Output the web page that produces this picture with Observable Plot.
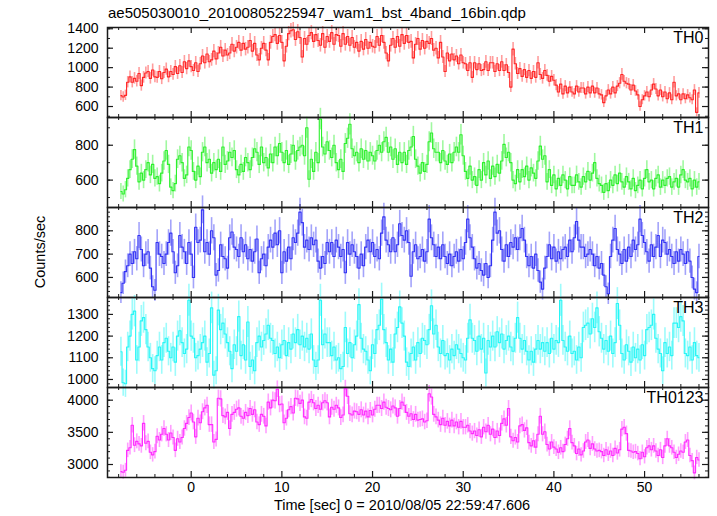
<!DOCTYPE html>
<html><head><meta charset="utf-8">
<script src="https://cdn.jsdelivr.net/npm/d3@7"></script>
<script src="https://cdn.jsdelivr.net/npm/@observablehq/plot@0.6"></script>
<style>
body{margin:0;background:#fff;}
#chart{position:relative;width:717px;height:516px;overflow:hidden;font-family:"Liberation Sans",Arial,Helvetica,sans-serif;color:#000;}
#title{position:absolute;left:108px;top:4px;font-size:15px;white-space:nowrap;}
#ylab{position:absolute;left:40px;top:252px;transform:translate(-50%,-50%) rotate(-90deg);font-size:14.5px;white-space:nowrap;}
#xlab{position:absolute;left:402px;top:497px;transform:translateX(-50%);font-size:14.5px;white-space:nowrap;}
.panel{position:absolute;left:0;}
</style></head>
<body><div id="chart">
<div id="title">ae505030010_20100805225947_wam1_bst_4band_16bin.qdp</div>
<div id="ylab">Counts/sec</div>
<div id="xlab">Time [sec] 0 = 2010/08/05 22:59:47.606</div>
</div>
<script>
// time bins (centre of first bin and bin width, seconds)
const binStart = -7.75;
const binWidth = 0.25;
const xDomain = [-9.23, 57.05];
const xMajorTicks = [0, 10, 20, 30, 40, 50];
const xMinorTicks = [-8,-6,-4,-2,2,4,6,8,12,14,16,18,22,24,26,28,32,34,36,38,42,44,46,48,52,54,56];

const th0 = [
712,698,715,850, 905,850,890,860, 940,815,900,945, 960,890,975,905,
900,960,885,950, 985,905,960,930, 1010,940,1020,950, 1060,990,1070,1010,
970,1050,960,1040, 1120,1050,1140,1060, 1080,1170,1090,1150, 1210,1120,1180,1130,
1150,1240,1170,1210, 1260,1180,1250,1190, 1210,1280,1170,1250, 1130,1080,1200,1250,
1180,1080,1260,1320, 1340,1250,1330,1260, 1070,1220,1350,1380, 1390,1290,1370,1310,
1110,1300,1240,1330, 1360,1270,1340,1280, 1230,1350,1210,1320, 1270,1360,1240,1340,
1330,1220,1350,1240, 1320,1230,1310,1210, 1260,1170,1270,1190, 1290,1200,1260,1220,
1210,1320,1230,1330, 1260,1150,1070,1230, 1300,1210,1320,1220, 1340,1250,1330,1260,
1270,1100,1240,1300, 1190,1280,1200,1270, 1250,1300,1180,1200, 1100,1260,1110,960,
1150,1070,1140,1080, 1120,1040,1130,1050, 1040,970,1050,900, 1050,980,1040,970,
980,1060,970,1050, 1050,960,1040,970, 1060,970,1030,950, 800,1190,1040,940,
990,910,980,900, 970,890,960,900, 1050,930,890,970, 920,860,910,870,
820,750,830,730, 810,740,800,750, 730,810,750,790, 790,730,800,740,
810,740,790,730, 720,640,710,770, 730,800,740,810, 840,930,860,840,
830,770,820,760, 720,600,670,710, 750,700,770,830, 780,710,770,700,
750,680,740,670, 850,710,730,670, 730,680,720,690, 670,770,540,740
];
const th1 = [
535,520,545,610, 660,720,775,680, 590,640,600,660, 700,630,690,610,
620,580,640,710, 770,690,560,540, 580,720,740,700, 610,630,790,770,
650,600,680,620, 760,790,700,720, 640,700,660,720, 650,790,690,710,
760,730,770,660, 630,690,650,730, 700,660,730,780, 760,690,790,700,
730,670,750,700, 790,740,810,760, 700,770,690,750, 800,710,770,790,
800,740,900,605, 720,650,760,700, 950,790,750,820, 770,730,800,700,
660,720,650,810, 840,920,780,740, 760,700,780,720, 770,710,760,740,
710,770,800,760, 820,845,760,790, 720,780,690,760, 700,760,690,770,
790,850,720,680, 640,700,650,690, 820,870,780,760, 760,700,770,710,
690,750,700,760, 790,760,860,740, 650,610,680,600, 620,570,660,600,
700,630,710,610, 680,620,690,640, 710,805,730,760, 700,600,580,660,
590,660,620,680, 600,670,640,610, 710,795,720,740, 590,660,570,630,
550,610,570,630, 600,550,620,570, 570,630,590,560, 620,590,650,600,
640,700,610,580, 570,530,580,540, 600,570,630,580, 640,590,560,620,
590,550,610,540, 570,600,550,610, 660,590,600,550, 610,630,560,600,
570,610,620,560, 590,610,560,630, 660,600,590,610, 550,600,560,590
];
const th2 = [
535,575,625,650, 700,660,710,680, 780,720,650,700, 710,640,560,545,
750,700,690,660, 700,750,790,710, 620,650,780,730, 710,660,750,700,
600,815,750,760, 890,710,750,700, 800,770,610,630, 740,690,680,640,
770,795,730,720, 690,770,710,740, 680,720,670,710, 765,620,680,700,
650,730,760,730, 790,740,800,620, 710,670,730,680, 770,750,790,880,
835,730,760,720, 770,740,760,670, 640,690,660,750, 710,750,690,760,
730,690,720,620, 750,700,740,710, 690,640,700,650, 730,760,710,750,
690,720,680,790, 860,760,740,710, 770,710,740,830, 780,760,800,750,
605,710,740,680, 690,720,670,710, 850,770,740,690, 730,680,740,690,
660,700,650,690, 710,670,720,680, 750,850,770,730, 680,640,660,630,
610,660,600,650, 760,880,790,800, 720,670,740,690, 750,730,770,720,
770,810,760,690, 650,690,640,700, 630,580,550,640, 690,740,680,730,
670,710,680,720, 730,690,760,710, 770,840,760,730, 730,690,700,720,
700,650,690,640, 660,610,560,530, 690,760,810,720, 700,660,720,670,
730,690,760,720, 740,850,780,750, 710,670,740,690, 730,780,690,760,
750,700,720,690, 660,710,670,720, 700,660,710,670, 600,550,535,690
];
const th3 = [
1128,985,980,1150, 1200,1300,1315,1090, 1150,1270,1285,1230, 1150,1100,1050,1040,
1110,1150,1090,1170, 1190,1130,1100,1150, 1080,1200,1225,1170, 1120,1140,1365,1200,
1190,1100,1110,1140, 1170,1200,1080,1120, 1330,1020,1040,1320, 1230,1260,1210,1170,
1130,1050,1160,1130, 1290,1110,1160,1090, 1265,1060,1090,1040, 1170,1200,1150,1180,
1210,1250,1190,1180, 1120,1150,1100,1160, 1180,1110,1170,1140, 1210,1170,1230,1160,
1200,1150,1190,1140, 1210,1090,1060,1090, 1365,1160,1210,1170, 1170,1110,1150,1090,
1100,1050,1060,1240, 1120,1170,1100,1160, 1200,1345,1190,1140, 1130,1090,1040,1160,
1120,1230,1250,1370, 1230,1170,1090,1140, 1080,1210,1240,1335, 1260,1200,1080,1060,
1120,1150,1090,1170, 1120,1190,1180,1160, 1230,1340,1210,1250, 1150,1120,1180,1110,
1120,1090,1140,1110, 1160,1140,1120,1100, 1090,1190,1275,1190, 1180,1130,1200,1140,
1190,1030,1180,1150, 1200,1150,1220,1170, 1210,1140,1180,1200, 1150,1130,1190,1285,
1190,1140,1180,1130, 1090,1130,1080,1140, 1180,1140,1170,1130, 1170,1120,1190,1140,
1180,1170,1365,1180, 1150,1130,1200,1120, 1130,1090,1150,1100, 1240,1250,1260,1210,
1280,1240,1330,1220, 1190,1140,1180,1130, 1200,1120,1170,1350, 1250,1120,1090,1160,
1130,1080,1150,1100, 1140,1090,1160,1110, 1230,1240,1250,1300, 1190,1140,1120,1040,
1170,1120,1150,1110, 1260,1260,1240,1290, 1270,1120,1110,1150, 1090,1170,1110,1100
];
const th0123 = [
2890,2880,2910,3220, 3260,3610,3300,3360, 3320,3290,3640,3330, 3360,3190,3150,3200,
3440,3380,3470,3560, 3470,3380,3490,3420, 3220,3400,3350,3420, 3560,3640,3730,3800,
3660,3430,3720,3650, 3820,3880,3920,3620, 3620,3350,3390,4030, 4020,3760,3740,3810,
3560,3780,3810,3860, 3880,3750,3720,3810, 3760,3870,3780,3850, 3660,3620,3780,3750,
3600,3970,3880,4000, 3990,4170,3930,3940, 3650,3720,3850,3900, 3800,4030,4020,3950,
4000,3740,3720,3970, 4010,3960,3870,3920, 3860,3960,3990,3960, 3740,3890,3860,3920,
3880,3730,3770,4180, 4060,3790,3770,3830, 3820,3780,3850,3770, 3830,3740,3840,3770,
3860,3920,3920,3870, 3970,3890,3870,3850, 3910,3880,3750,3870, 3970,3920,3810,3750,
3790,3700,3780,3690, 3700,3710,3660,3680, 4100,4050,3780,3740, 3690,3620,3720,3610,
3670,3600,3690,3600, 3660,3580,3670,3580, 3580,3610,3520,3480, 3520,3450,3540,3430,
3580,3510,3610,3470, 3550,3420,3520,3450, 3640,3710,3610,3870, 3430,3370,3420,3350,
3600,3620,3530,3570, 3340,3290,3370,3270, 3470,3750,3470,3510, 3310,3240,3350,3270,
3240,3190,3260,3200, 3310,3400,3560,3340, 3290,3170,3240,3150, 3210,3350,3380,3250,
3320,3240,3210,3220, 3200,3140,3230,3160, 3210,3140,3250,3180, 3230,3550,3580,3480,
3220,3210,3190,3200, 3170,3090,3190,3120, 3260,3290,3230,3290, 3210,3140,3230,3110,
3290,3400,3290,3260, 3190,3110,3160,3210, 3190,3350,3380,3140, 3060,2870,3110,3070
];

const panelNames = ["TH0", "TH1", "TH2", "TH3", "TH0123"];
const panelColors = ["#ff2626", "#2cf02c", "#3232f4", "#26f6f6", "#ff2aff"];
const yDomains = [[487, 1413], [443, 959], [514, 900], [963, 1378], [2798, 4197]];
const yLabelTicks = [[600, 800, 1000, 1200, 1400], [600, 800], [600, 700, 800], [1000, 1100, 1200, 1300], [3000, 3500, 4000]];
const yMajorTicks = [[600, 800, 1000, 1200, 1400], [600, 800], [600, 700, 800], [1000, 1100, 1200, 1300], [3000, 3500, 4000]];
const yMinorStep = [100, 100, 20, 20, 100];
const series = [th0, th1, th2, th3, th0123];

const W = 717, mL = 107, mR = 9, panelH = 90, topStart = 27;
const innerW = W - mL - mR;
const chart = document.getElementById("chart");
const frameColor = "#1a1a1a";

series.forEach((vals, p) => {
  const data = vals.map((v, i) => ({t: binStart + binWidth * i, v, e: 2 * Math.sqrt(v)})); // Poisson error for 0.25 s bins
  const [y0, y1] = yDomains[p];
  const minor = d3.range(Math.ceil(y0 / yMinorStep[p]) * yMinorStep[p], y1, yMinorStep[p]);
  const last = p === series.length - 1;
  const mB = last ? 24 : 0;
  const marks = [
    Plot.ruleX(data, {x: "t", y1: d => d.v - d.e, y2: d => d.v + d.e, stroke: panelColors[p], strokeOpacity: 0.45, strokeWidth: 1.6}),
    Plot.line(data, {x: "t", y: "v", curve: "step", stroke: panelColors[p], strokeWidth: 1.1}),
    // inward ticks
    Plot.tickX(xMajorTicks, {x: d => d, insetTop: panelH - 6, stroke: frameColor, strokeWidth: 1.2}),
    Plot.tickX(xMajorTicks, {x: d => d, insetBottom: panelH - 6, stroke: frameColor, strokeWidth: 1.2}),
    Plot.tickX(xMinorTicks, {x: d => d, insetTop: panelH - 3, stroke: frameColor, strokeWidth: 1}),
    Plot.tickX(xMinorTicks, {x: d => d, insetBottom: panelH - 3, stroke: frameColor, strokeWidth: 1}),
    Plot.tickY(yMajorTicks[p], {y: d => d, insetRight: innerW - 6, stroke: frameColor, strokeWidth: 1.2}),
    Plot.tickY(yMajorTicks[p], {y: d => d, insetLeft: innerW - 6, stroke: frameColor, strokeWidth: 1.2}),
    Plot.tickY(minor, {y: d => d, insetRight: innerW - 3, stroke: frameColor, strokeWidth: 1}),
    Plot.tickY(minor, {y: d => d, insetLeft: innerW - 3, stroke: frameColor, strokeWidth: 1}),
    Plot.frame({stroke: frameColor, strokeWidth: 1.5}),
    Plot.axisY(yLabelTicks[p], {tickSize: 0, tickPadding: 9, fontSize: 14, fill: "#000", label: null, tickFormat: d => String(d)}),
    Plot.text([panelNames[p]], {text: d => d, frameAnchor: "top-right", dx: -5, dy: 4, textAnchor: "end", lineAnchor: "top", fontSize: 16, fill: "#000"})
  ];
  if (last) marks.push(Plot.axisX(xMajorTicks, {anchor: "bottom", tickSize: 0, tickPadding: 5, fontSize: 14, fill: "#000", label: null, tickFormat: d => String(d)}));
  const svg = Plot.plot({
    width: W,
    height: panelH + mB,
    marginLeft: mL, marginRight: mR, marginTop: 0, marginBottom: mB,
    x: {domain: xDomain, axis: last ? undefined : null, label: null},
    y: {domain: yDomains[p], label: null},
    style: {background: "transparent", overflow: "visible", fontFamily: "Liberation Sans, Arial, sans-serif", fontSize: "14px", color: "#000"},
    marks
  });
  svg.classList.add("panel");
  svg.style.top = (topStart + panelH * p) + "px";
  svg.style.position = "absolute";
  chart.appendChild(svg);
});
</script>
</body></html>
